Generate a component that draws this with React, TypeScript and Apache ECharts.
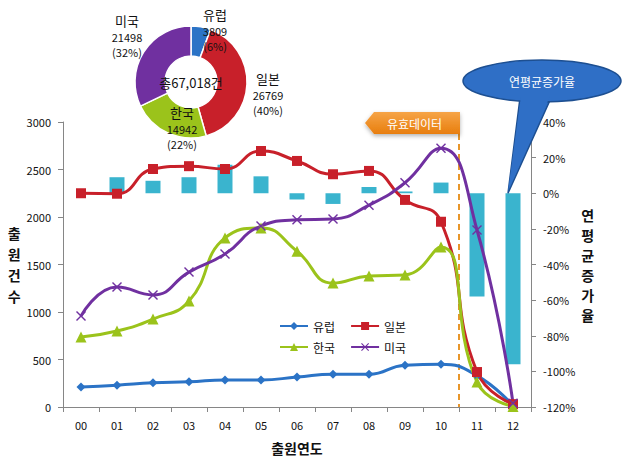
import React, { useEffect, useRef } from "react";
import * as echarts from "echarts";

const categories = ["00", "01", "02", "03", "04", "05", "06", "07", "08", "09", "10", "11", "12"];
const europe = [210, 230, 255, 265, 285, 285, 315, 345, 345, 440, 450, 330, 15];
const japan = [2250, 2245, 2505, 2535, 2505, 2695, 2590, 2450, 2485, 2180, 1950, 368, 30];
const korea = [737, 800, 926, 1116, 1780, 1885, 1640, 1305, 1380, 1390, 1685, 263, 5];
const usa = [958, 1263, 1180, 1420, 1610, 1905, 1970, 1980, 2125, 2360, 2725, 1863, 40];
const growth = [null, 9, 7, 9, 16, 9.5, -3.5, -6, 3.5, 1, 6, -58, -96];

const pieNames = ["유럽", "일본", "한국", "미국"];
const pieValues = [3809, 26769, 14942, 21498];

const COLORS = {
  europe: "#2B73C6",
  japan: "#C8202A",
  korea: "#9BC31B",
  usa: "#7030A0",
  bar: "#3AB4CE",
};
const pieColors = [COLORS.europe, COLORS.japan, COLORS.korea, COLORS.usa];
const FONT = "Noto Sans CJK KR";

const XSYM = "path://M0,1L1,0L5,4L9,0L10,1L6,5L10,9L9,10L5,6L1,10L0,9L4,5Z";

export default function App() {
  const ref = useRef<HTMLDivElement>(null);
  useEffect(() => {
    if (!ref.current) return;
    const chart = echarts.init(ref.current, undefined, { renderer: "svg" });
    const total = pieValues.reduce((a, b) => a + b, 0);
    const pct = (v: number) => Math.round((v / total) * 100);
    const labelPos = [
      [215, 6],
      [268, 70],
      [182, 104],
      [127, 12],
    ];

    const axisLine = { show: true, lineStyle: { color: "#868686", width: 1 } };
    const lineSeries = (name: string, data: number[], color: string, symbol: string, size: number) => ({
      name,
      type: "line",
      data,
      smooth: true,
      symbol,
      symbolSize: size,
      z: 5,
      lineStyle: { color, width: 3 },
      itemStyle: { color },
    });

    chart.setOption({
      animation: false,
      textStyle: { fontFamily: FONT },
      grid: { left: 63, right: 91, top: 122, bottom: 59 },
      legend: [
        {
          data: ["유럽", "일본"],
          left: 274,
          top: 315,
          itemWidth: 28,
          itemHeight: 10,
          itemGap: 15,
          textStyle: { fontSize: 12, color: "#111", fontFamily: FONT },
        },
        {
          data: ["한국", "미국"],
          left: 274,
          top: 336,
          itemWidth: 28,
          itemHeight: 10,
          itemGap: 15,
          textStyle: { fontSize: 12, color: "#111", fontFamily: FONT },
        },
      ],
      xAxis: {
        type: "category",
        data: categories,
        boundaryGap: true,
        axisLine,
        axisTick: { show: true, length: 5, lineStyle: { color: "#868686" } },
        axisLabel: { color: "#111", fontSize: 11, margin: 12 },
        name: "출원연도",
        nameLocation: "middle",
        nameGap: 34,
        nameTextStyle: { fontSize: 14, fontWeight: "bold", color: "#111" },
      },
      yAxis: [
        {
          type: "value",
          min: 0,
          max: 3000,
          interval: 500,
          axisLine,
          axisTick: { show: true, length: 5, lineStyle: { color: "#868686" } },
          splitLine: { show: false },
          axisLabel: { color: "#111", fontSize: 11, margin: 12, formatter: (v: number) => String(v) },
          name: "출\n원\n건\n수",
          nameLocation: "middle",
          nameRotate: 0,
          nameGap: 42,
          nameTextStyle: { fontSize: 14, fontWeight: "bold", color: "#111", lineHeight: 21 },
        },
        {
          type: "value",
          min: -120,
          max: 40,
          interval: 20,
          position: "right",
          axisLine,
          axisTick: { show: true, length: 5, lineStyle: { color: "#868686" } },
          splitLine: { show: false },
          axisLabel: { color: "#111", fontSize: 11, margin: 12, formatter: "{value}%" },
          name: "연\n평\n균\n증\n가\n율",
          nameLocation: "middle",
          nameRotate: 0,
          nameGap: 42,
          nameTextStyle: { fontSize: 14, fontWeight: "bold", color: "#111", lineHeight: 20 },
        },
      ],
      series: [
        {
          name: "연평균증가율",
          type: "bar",
          yAxisIndex: 1,
          data: growth,
          barWidth: 15,
          z: 2,
          itemStyle: { color: COLORS.bar },
        },
        lineSeries("유럽", europe, COLORS.europe, "diamond", 9),
        lineSeries("일본", japan, COLORS.japan, "rect", 10),
        lineSeries("한국", korea, COLORS.korea, "triangle", 11),
        lineSeries("미국", usa, COLORS.usa, XSYM, 10),
        {
          type: "pie",
          center: [191, 82],
          radius: [26, 56],
          startAngle: 90,
          label: { show: false },
          labelLine: { show: false },
          itemStyle: { borderColor: "#fff", borderWidth: 1.5 },
          data: pieNames.map((n, i) => ({
            name: n,
            value: pieValues[i],
            itemStyle: { color: pieColors[i] },
          })),
          z: 10,
        },
      ],
    });

    const xa = chart.convertToPixel({ xAxisIndex: 0 }, "10") as number;
    const xb = chart.convertToPixel({ xAxisIndex: 0 }, "11") as number;
    const x12 = chart.convertToPixel({ xAxisIndex: 0 }, "12") as number;
    const y0 = chart.convertToPixel({ yAxisIndex: 1 }, 0) as number;
    const yBottom = chart.convertToPixel({ yAxisIndex: 0 }, 0) as number;
    const xd = (xa + xb) / 2;
    const tipX = x12 - 5;

    const pieLabels = pieNames.map((n, i) => ({
      type: "text",
      x: labelPos[i][0],
      y: labelPos[i][1],
      z: 20,
      style: {
        text: `{n|${n}}\n{v|${pieValues[i]}}\n{v|(${pct(pieValues[i])}%)}`,
        align: "center",
        verticalAlign: "top",
        fontFamily: FONT,
        rich: {
          n: { fontSize: 13, lineHeight: 17, fill: "#111", fontFamily: FONT },
          v: { fontSize: 11, lineHeight: 15, fill: "#111", fontFamily: FONT },
        },
      },
    }));

    chart.setOption({
      graphic: [
        ...pieLabels,
        {
          type: "text",
          x: 191,
          y: 82,
          z: 20,
          style: {
            text: `총${total.toLocaleString("en-US")}건`,
            align: "center",
            verticalAlign: "middle",
            fontSize: 13,
            fill: "#111",
            fontFamily: FONT,
          },
        },
        {
          type: "line",
          z: 3,
          shape: { x1: xd, y1: 134, x2: xd, y2: yBottom },
          style: { stroke: "#E8962A", lineWidth: 2, lineDash: [6, 4] },
        },
        {
          type: "polygon",
          z: 6,
          shape: { points: [[365, 123], [374, 112], [xd + 1, 112], [xd + 1, 134], [374, 134]] },
          style: {
            fill: new echarts.graphic.LinearGradient(0, 0, 0, 1, [
              { offset: 0, color: "#F6A447" },
              { offset: 1, color: "#E87E0E" },
            ]),
            shadowBlur: 4,
            shadowOffsetY: 2,
            shadowColor: "rgba(0,0,0,0.3)",
          },
        },
        {
          type: "text",
          x: (370 + xd) / 2,
          y: 123,
          z: 7,
          style: {
            text: "유효데이터",
            align: "center",
            verticalAlign: "middle",
            fontSize: 12,
            fill: "#fff",
            fontFamily: FONT,
          },
        },
        {
          type: "polygon",
          z: 8,
          shape: { points: [[520, 98], [551, 98], [tipX, y0]] },
          style: { fill: "#2F6FC6", stroke: "#1D4F91", lineWidth: 1.5 },
        },
        {
          type: "ellipse",
          z: 8,
          shape: { cx: 542, cy: 81, rx: 79, ry: 21 },
          style: { fill: "#2F6FC6", stroke: "#1D4F91", lineWidth: 1.5 },
        },
        {
          type: "polygon",
          z: 9,
          shape: { points: [[521, 96], [550, 96], [tipX, y0 - 2]] },
          style: { fill: "#2F6FC6" },
        },
        {
          type: "text",
          x: 542,
          y: 81,
          z: 10,
          style: {
            text: "연평균증가율",
            align: "center",
            verticalAlign: "middle",
            fontSize: 12,
            fill: "#fff",
            fontFamily: FONT,
          },
        },
      ],
    });

    return () => chart.dispose();
  }, []);
  return <div ref={ref} style={{ width: 622, height: 466, position: "absolute", left: 0, top: 0 }} />;
}
